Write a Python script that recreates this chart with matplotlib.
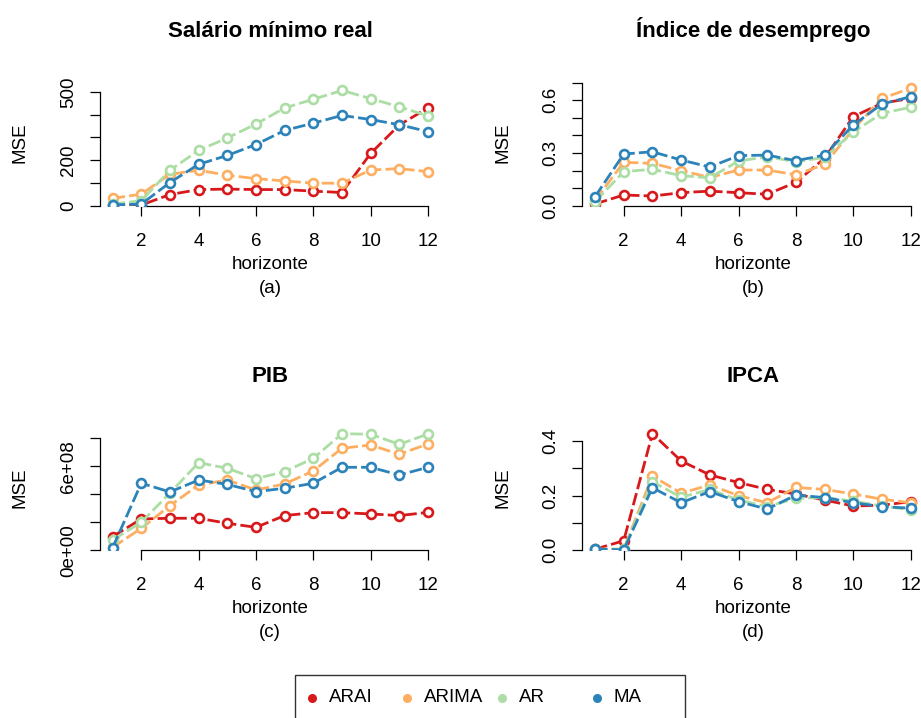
import numpy as np
import matplotlib.pyplot as plt
from matplotlib.lines import Line2D
from matplotlib.patches import Rectangle

plt.rcParams['font.family'] = ['Liberation Sans', 'DejaVu Sans']

# dados
horizonte = np.arange(1, 13)
modelos = ['ARAI', 'ARIMA', 'AR', 'MA']
cores = ['#D7191C', '#FDAE61', '#ABDDA4', '#2B83BA']
titulos = ['Salário mínimo real', 'Índice de desemprego', 'PIB', 'IPCA']
letras = ['(a)', '(b)', '(c)', '(d)']

sal_arai = [1, 3, 49, 71, 73, 71, 71, 64, 58, 230, 355, 430]
sal_arima = [32, 51, 138, 156, 134, 119, 109, 99, 99, 157, 163, 150]
sal_ar = [7, 22, 156, 243, 298, 359, 430, 468, 507, 471, 435, 395]
sal_ma = [4, 7, 102, 182, 221, 269, 331, 363, 397, 379, 356, 326]

des_arai = [0.01, 0.061, 0.055, 0.074, 0.083, 0.074, 0.065, 0.133, 0.27, 0.507, 0.583, 0.611]
des_arima = [0.03, 0.247, 0.241, 0.2, 0.161, 0.203, 0.203, 0.176, 0.235, 0.435, 0.611, 0.668]
des_ar = [0.023, 0.194, 0.207, 0.171, 0.159, 0.254, 0.279, 0.25, 0.275, 0.419, 0.526, 0.56]
des_ma = [0.051, 0.294, 0.307, 0.26, 0.22, 0.285, 0.288, 0.256, 0.288, 0.459, 0.579, 0.62]

pib_arai = [0.98e8, 2.24e8, 2.29e8, 2.29e8, 1.93e8, 1.64e8, 2.48e8, 2.69e8, 2.69e8, 2.6e8, 2.48e8, 2.71e8]
pib_arima = [0.21e8, 1.57e8, 3.19e8, 4.67e8, 5.02e8, 4.31e8, 4.74e8, 5.67e8, 7.29e8, 7.52e8, 6.86e8, 7.6e8]
pib_ar = [0.74e8, 2.0e8, 4.1e8, 6.26e8, 5.86e8, 5.12e8, 5.62e8, 6.57e8, 8.33e8, 8.29e8, 7.57e8, 8.31e8]
pib_ma = [0.19e8, 4.79e8, 4.17e8, 5.02e8, 4.71e8, 4.19e8, 4.43e8, 4.79e8, 5.93e8, 5.93e8, 5.38e8, 5.93e8]

ipca_arai = [0.004, 0.035, 0.427, 0.327, 0.276, 0.248, 0.223, 0.206, 0.184, 0.162, 0.165, 0.178]
ipca_arima = [0.004, 0.004, 0.272, 0.209, 0.239, 0.2, 0.174, 0.23, 0.223, 0.206, 0.187, 0.174]
ipca_ar = [0.004, 0.004, 0.251, 0.194, 0.223, 0.184, 0.16, 0.19, 0.193, 0.18, 0.162, 0.148]
ipca_ma = [0.004, 0.002, 0.229, 0.174, 0.215, 0.178, 0.151, 0.202, 0.193, 0.174, 0.16, 0.154]

series = [
    [sal_arai, sal_arima, sal_ar, sal_ma],
    [des_arai, des_arima, des_ar, des_ma],
    [pib_arai, pib_arima, pib_ar, pib_ma],
    [ipca_arai, ipca_arima, ipca_ar, ipca_ma],
]

yticks = [np.arange(0, 501, 100), np.arange(0, 0.71, 0.1),
          np.arange(0, 8.1e8, 2e8), np.arange(0, 0.41, 0.1)]
ylabels = [['0', '', '200', '', '', '500'],
           ['0.0', '', '', '0.3', '', '', '0.6', ''],
           ['0e+00', '', '', '6e+08', ''],
           ['0.0', '', '0.2', '', '0.4']]
ytop = [552.8, 0.7153, 8.98e8, 0.46]

W, H = 921, 718
fig = plt.figure(figsize=(W / 100, H / 100), dpi=100)

# posicoes dos paineis em pixels: esquerda, topo, direita, base
caixas = [(100, 80, 440.6, 205.7), (582.4, 80, 923.3, 205.7),
          (100, 424.6, 440.6, 550.3), (582.4, 424.6, 923.3, 550.3)]

for k in range(4):
    l, t, r, b = caixas[k]
    ax = fig.add_axes([l / W, 1 - b / H, (r - l) / W, (b - t) / H])
    for i in range(4):
        ax.plot(horizonte, series[k][i], color=cores[i], lw=2.0,
                linestyle=(0, (4.5, 1.5)), marker='o', ms=6.4, mew=1.9,
                mfc='white', mec=cores[i], zorder=2 + i)
    ax.set_xlim(0.56, 12.44)
    ax.set_ylim(0, ytop[k])
    ax.set_xticks(np.arange(2, 13, 2))
    ax.set_yticks(yticks[k])
    ax.set_yticklabels(ylabels[k], rotation=90, va='center')
    for s in ['top', 'right']:
        ax.spines[s].set_visible(False)
    ax.spines['bottom'].set_bounds(2, 12)
    ax.spines['left'].set_bounds(0, yticks[k][-1])
    ax.spines['left'].set_linewidth(0.9)
    ax.spines['bottom'].set_linewidth(0.9)
    ax.tick_params(length=7.5, width=0.9, labelsize=13.5)
    ax.tick_params(axis='x', pad=12)
    ax.tick_params(axis='y', pad=9)
    ax.set_title(titulos[k], fontsize=16, fontweight='bold', pad=31)
    ax.annotate('horizonte', xy=(0.5, 0), xycoords='axes fraction',
                xytext=(0, -42), textcoords='offset points',
                ha='center', va='center', fontsize=13.5)
    ax.annotate(letras[k], xy=(0.5, 0), xycoords='axes fraction',
                xytext=(0, -59.5), textcoords='offset points',
                ha='center', va='center', fontsize=13.5)
    ax.annotate('MSE', xy=(0, 0.5), xycoords='axes fraction',
                xytext=(-57.5, 0), textcoords='offset points',
                ha='center', va='center', fontsize=13.5, rotation=90)

# legenda
fig.add_artist(Rectangle((295 / W, -0.02), (685 - 295) / W, (H - 675) / H + 0.02,
                         transform=fig.transFigure, fill=False, ec='#333333', lw=1))
for i in range(4):
    px = 311.7 + 95 * i
    fig.add_artist(Line2D([px / W], [1 - 698 / H], transform=fig.transFigure,
                          marker='o', ms=5.5, color=cores[i], ls='none'))
    fig.text((px + 17) / W, 1 - 698 / H, modelos[i], ha='left', va='center',
             fontsize=13.5)

fig.savefig('out.png', dpi=100)
